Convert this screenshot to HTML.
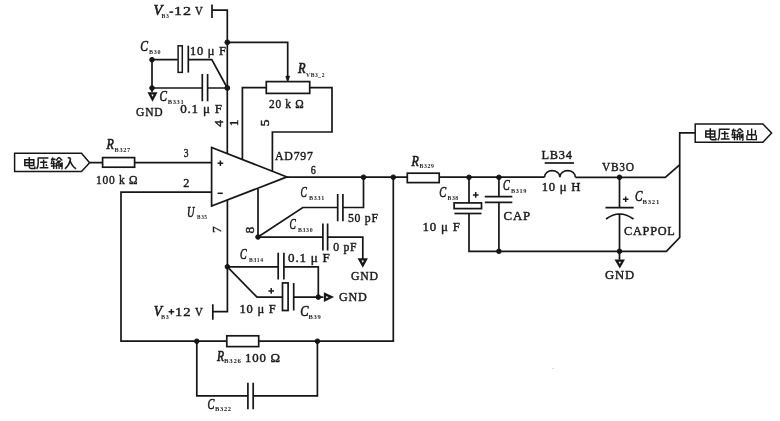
<!DOCTYPE html>
<html><head><meta charset="utf-8">
<style>
html,body{margin:0;padding:0;background:#fff;}
body{width:780px;height:421px;overflow:hidden;}
svg{display:block;filter:blur(0.3px);}
.t{font-family:"Liberation Serif",serif;fill:#1a1a1a;stroke:#1a1a1a;stroke-width:0.45px;letter-spacing:0.8px;}
.i{letter-spacing:0;stroke-width:0.6px;}
.s{letter-spacing:0.7px;}
.i{font-style:italic;}
.s{font-weight:bold;stroke-width:0px;}
</style></head><body>
<svg width="780" height="421" viewBox="0 0 780 421">
<rect x="0" y="0" width="780" height="421" fill="#fff"/>
<g fill="none" stroke="#161616" stroke-width="1.7" stroke-linejoin="miter">
<path d="M212,4.4V18M212,10.2H227.3V153.5"/>
<path d="M227.3,42.3H287.7V77"/>
<path d="M152,59.7H177.8M188.3,59.7H211.8L227.3,88"/>
<rect x="178.1" y="45.8" width="4.2" height="26.6" stroke-width="1.5"/>
<path d="M188.3,45.7V72.6"/>
<path d="M152,59.7V92"/>
<path d="M152,88H202.3M207.6,88H227.3M202.3,74V101.3M207.6,74V101.3"/>
<rect x="266.3" y="81.6" width="43.4" height="11.8"/>
<path d="M242.4,159V87.6H266.3M309.7,87.6H332V132H272.4V171"/>
<path d="M211.6,147.5V206.1L286.9,176.9Z"/>
<path d="M14.6,153.3H81.5L89.6,162.7L81.5,171.6H14.6Z" stroke-width="1.5"/>
<path d="M89.6,162.6H102.6M134.6,162.6H211.7"/>
<rect x="102.6" y="157.6" width="32" height="9.6"/>
<path d="M211.7,192.2H121V341.2H226.8M258.7,341.2H393.3V177.2"/>
<rect x="226.8" y="335.8" width="31.9" height="10.8"/>
<path d="M196.8,341.2V395.8H247.9M253.2,395.8H317.4V341.2M247.9,382.8V409.2M253.2,382.8V409.2"/>
<path d="M286.8,177.2H407.3M439.2,177.2H544.5M575.4,177.3H665.3L679.6,164.9"/>
<rect x="407.3" y="173.2" width="31.9" height="9.4"/>
<path d="M363.5,177.2V207.5H342.9M337.7,207.5H302.8L258,237M337.7,194V221.3M342.9,194V221.3"/>
<path d="M258,189V237.1H322.9M327.6,237.1H362.8V259M322.9,223.5V250.4M327.6,223.5V250.4"/>
<path d="M227.4,200V311.6H212.8M212.8,304.3V319.7"/>
<path d="M227.4,266.8H278.2M283.9,266.8H318.3V297M278.2,252.7V279.5M283.9,252.7V279.5"/>
<path d="M227.4,266.8L257,297.1H282.5M293.7,297.1H323.4M293.7,282.9V310.5"/>
<rect x="282.5" y="282.9" width="5.6" height="27.6"/>
<path d="M469,177.3V202.9M469,213.5V251.3H666.4L679.7,237.5V132.8H695.2"/>
<rect x="454.1" y="202.9" width="27.4" height="5.7"/>
<path d="M454.4,213.5H481.5"/>
<path d="M498.9,177.3V196.6M484.8,196.6H512.3M484.8,202.4H512.3M498.9,202.4V251.3"/>
<path d="M544.5,177.3C544.5,168.5 559.9,168.5 559.9,177.3C559.9,168.5 575.4,168.5 575.4,177.3"/>
<path d="M544.7,163H574"/>
<path d="M619.5,177.3V207.7M605.5,207.7H633.7M606,219Q619.5,209 633.5,219M619.5,214.7V259.7"/>
<path d="M695.2,123.9H762.9L771.6,133.1L762.9,142.2H695.2Z" stroke-width="1.5"/>
</g>
<g fill="#161616" stroke="#161616" stroke-width="1">
<circle cx="227.3" cy="42.3" r="2.4"/>
<circle cx="152" cy="59.7" r="2.3"/>
<circle cx="152" cy="88" r="2.3"/>
<circle cx="227.3" cy="88" r="2.4"/>
<circle cx="363.5" cy="177.2" r="2.3"/>
<circle cx="393.3" cy="177.2" r="2.3"/>
<circle cx="258" cy="237" r="2.3"/>
<circle cx="227.4" cy="266.8" r="2.3"/>
<circle cx="318.3" cy="297.1" r="2.3"/>
<circle cx="196.8" cy="341.2" r="2.3"/>
<circle cx="317.4" cy="341.2" r="2.3"/>
<circle cx="469" cy="177.3" r="2.3"/>
<circle cx="498.9" cy="177.3" r="2.3"/>
<circle cx="498.9" cy="251.3" r="2.3"/>
<circle cx="619.5" cy="177.3" r="2.3"/>
<circle cx="619.5" cy="251.3" r="2.3"/>
<path d="M285.9,76.3H289.5L287.7,81.6Z"/>
<circle cx="553" cy="368.5" r="0.6" fill="#bbb" stroke="none"/>
</g>
<g fill="#fff" stroke="#161616" stroke-width="2.3">
<path d="M149.4,93.4H155.6L152.5,99.2Z"/>
<path d="M359.5,259.4H366H366L362.8,265.4Z"/>
<path d="M325,294.1V300.2L331.4,297.1Z"/>
<path d="M616.5,260.6H623L619.8,266.3Z"/>
</g>

<g fill="none" stroke="#1a1a1a" stroke-width="1.5">
<path d="M169.4,12.1H173.2"/>
<path d="M168.6,311.7H174.2M171.4,308.9V314.5"/>
<path d="M217.6,163.2H223.2M220.4,160.4V166"/>
<path d="M217.6,193.3H222.8"/>
<path d="M268.4,290.9H274M271.2,288.1V293.7"/>
<path d="M472.9,194.9H478.5M475.7,192.1V197.7"/>
<path d="M622.9,199.3H628.5M625.7,196.5V202.1"/>
</g>
<g class="t" style="font-size:13.5px">
<text transform="translate(222.5,123) rotate(-90)" text-anchor="middle">4</text>
<text transform="translate(238,122.5) rotate(-90)" text-anchor="middle">1</text>
<text transform="translate(269,122.5) rotate(-90)" text-anchor="middle">5</text>
<text transform="translate(221,229.2) rotate(-90)" text-anchor="middle">7</text>
<text transform="translate(254,229.6) rotate(-90)" text-anchor="middle">8</text>
</g>
<defs>
<g id="dian" fill="none" stroke="#1a1a1a" stroke-width="1.5">
<path d="M1.5,2.8H10.5V8.6H1.5Z M1.5,5.7H10.5 M6,0V9.8Q6,11.4 7.8,11.4H11.6V9.6"/>
</g>
<g id="ya" fill="none" stroke="#1a1a1a" stroke-width="1.5">
<path d="M1,1H11.8 M1.6,1V6Q1.6,10 0,12 M3.5,5.2H10.6 M7,2.6V10.8 M3,10.8H11.8 M9.2,7.4L10.4,8.8"/>
</g>
<g id="shu" fill="none" stroke="#1a1a1a" stroke-width="1.4">
<path d="M0.4,2.2H5 M2.4,0.4L0.8,6.6H5 M3.2,3.4V12 M0.4,9H5.2 M8.4,0.2L5.4,3.6 M8.4,0.2L11.8,3.6 M6.6,4.2H10.4 M6,5.8H8.6V12 M6,5.8V12 M6,8.2H8.6 M10.2,6V10 M11.6,5.2V11.6Q11.6,12 10.8,12"/>
</g>
<g id="ru" fill="none" stroke="#1a1a1a" stroke-width="1.6">
<path d="M3.4,0.8Q5.6,0.6 6.2,1.6 M6.2,1.6Q5.4,8 0.6,11.8 M5.8,4Q8,9.6 11.8,11.8"/>
</g>
<g id="chu" fill="none" stroke="#1a1a1a" stroke-width="1.5">
<path d="M6,0V11.6 M2,1.4V6.4H10V1.4 M1,7V11.6H11V7"/>
</g>
</defs>
<use href="#dian" x="23.3" y="157"/>
<use href="#ya" x="36.6" y="157"/>
<use href="#shu" x="50.5" y="157"/>
<use href="#ru" x="64.3" y="157"/>
<use href="#dian" x="704.3" y="128.3"/>
<use href="#ya" x="717.8" y="128.3"/>
<use href="#shu" x="731.3" y="128.3"/>
<use href="#chu" transform="translate(746,128.6) scale(0.94,0.95)"/>

<text id="v12t" class="t" x="174.10" y="14.90" style="font-size:13.30px" textLength="17.93" lengthAdjust="spacingAndGlyphs">12</text>
<text id="vVt" class="t" x="194.90" y="14.90" style="font-size:13.30px" textLength="8.45" lengthAdjust="spacingAndGlyphs">V</text>
<text id="v12b" class="t" x="175.10" y="316.40" style="font-size:13.30px" textLength="16.42" lengthAdjust="spacingAndGlyphs">12</text>
<text id="vVb" class="t" x="194.90" y="316.40" style="font-size:13.30px" textLength="8.45" lengthAdjust="spacingAndGlyphs">V</text>
<text id="uF1" class="t" x="190.00" y="55.10" style="font-size:13.30px" textLength="36.63" lengthAdjust="spacingAndGlyphs">10 μ F</text>
<text id="gnd1" class="t" x="136.10" y="115.90" style="font-size:13.30px" textLength="27.13" lengthAdjust="spacingAndGlyphs">GND</text>
<text id="uF01a" class="t" x="180.20" y="113.35" style="font-size:13.30px" textLength="42.63" lengthAdjust="spacingAndGlyphs">0.1 μ F</text>
<text id="k20" class="t" x="269.10" y="107.90" style="font-size:13.30px" textLength="35.27" lengthAdjust="spacingAndGlyphs">20 k Ω</text>
<text id="ad" class="t" x="275.10" y="159.90" style="font-size:13.30px" textLength="38.44" lengthAdjust="spacingAndGlyphs">AD797</text>
<text id="p6" class="t" x="310.70" y="174.40" style="font-size:13.30px" textLength="5.68" lengthAdjust="spacingAndGlyphs">6</text>
<text id="p3" class="t" x="183.80" y="157.00" style="font-size:13.30px" textLength="5.32" lengthAdjust="spacingAndGlyphs">3</text>
<text id="p2" class="t" x="183.20" y="187.00" style="font-size:13.30px" textLength="6.76" lengthAdjust="spacingAndGlyphs">2</text>
<text id="k100" class="t" x="96.10" y="183.90" style="font-size:13.30px" textLength="42.10" lengthAdjust="spacingAndGlyphs">100 k Ω</text>
<text id="pf50" class="t" x="348.00" y="222.30" style="font-size:13.30px" textLength="30.66" lengthAdjust="spacingAndGlyphs">50 pF</text>
<text id="pf0" class="t" x="333.30" y="250.50" style="font-size:13.30px" textLength="23.93" lengthAdjust="spacingAndGlyphs">0 pF</text>
<text id="gnd2" class="t" x="351.10" y="279.90" style="font-size:13.30px" textLength="27.66" lengthAdjust="spacingAndGlyphs">GND</text>
<text id="uF01b" class="t" x="288.10" y="262.20" style="font-size:13.30px" textLength="42.57" lengthAdjust="spacingAndGlyphs">0.1 μ F</text>
<text id="gnd3" class="t" x="339.10" y="301.40" style="font-size:13.30px" textLength="28.49" lengthAdjust="spacingAndGlyphs">GND</text>
<text id="uF10b" class="t" x="239.50" y="313.30" style="font-size:13.30px" textLength="36.93" lengthAdjust="spacingAndGlyphs">10 μ F</text>
<text id="o100" class="t" x="245.10" y="362.40" style="font-size:13.30px" textLength="35.76" lengthAdjust="spacingAndGlyphs">100 Ω</text>
<text id="uF10c" class="t" x="422.60" y="231.00" style="font-size:13.30px" textLength="38.14" lengthAdjust="spacingAndGlyphs">10 μ F</text>
<text id="cap" class="t" x="503.60" y="219.90" style="font-size:13.30px" textLength="27.28" lengthAdjust="spacingAndGlyphs">CAP</text>
<text id="lb34" class="t" x="541.60" y="159.40" style="font-size:13.30px" textLength="31.08" lengthAdjust="spacingAndGlyphs">LB34</text>
<text id="uH" class="t" x="541.70" y="191.40" style="font-size:13.30px" textLength="39.61" lengthAdjust="spacingAndGlyphs">10 μ H</text>
<text id="vb30" class="t" x="602.10" y="170.90" style="font-size:13.30px" textLength="32.62" lengthAdjust="spacingAndGlyphs">VB3O</text>
<text id="cappol" class="t" x="624.10" y="234.90" style="font-size:13.30px" textLength="51.47" lengthAdjust="spacingAndGlyphs">CAPPOL</text>
<text id="gnd4" class="t" x="605.10" y="279.40" style="font-size:13.30px" textLength="29.74" lengthAdjust="spacingAndGlyphs">GND</text>
<text id="Vt" class="t i" x="153.45" y="14.90" style="font-size:14.20px" textLength="8.87" lengthAdjust="spacingAndGlyphs">V</text>
<text id="Vt_s" class="t s" x="161.60" y="18.40" style="font-size:6.80px" textLength="7.89" lengthAdjust="spacingAndGlyphs">B3</text>
<text id="Vb" class="t i" x="153.70" y="316.40" style="font-size:14.20px" textLength="8.24" lengthAdjust="spacingAndGlyphs">V</text>
<text id="Vb_s" class="t s" x="161.10" y="319.40" style="font-size:6.80px" textLength="8.29" lengthAdjust="spacingAndGlyphs">B3</text>
<text id="C30" class="t i" x="140.30" y="50.90" style="font-size:14.20px" textLength="7.75" lengthAdjust="spacingAndGlyphs">C</text>
<text id="C30_s" class="t s" x="149.10" y="53.90" style="font-size:6.80px" textLength="12.02" lengthAdjust="spacingAndGlyphs">B30</text>
<text id="C331a" class="t i" x="159.40" y="100.90" style="font-size:14.20px" textLength="7.43" lengthAdjust="spacingAndGlyphs">C</text>
<text id="C331a_s" class="t s" x="167.70" y="103.70" style="font-size:6.80px" textLength="16.72" lengthAdjust="spacingAndGlyphs">B331</text>
<text id="Rvb" class="t i" x="297.95" y="73.40" style="font-size:14.20px" textLength="7.64" lengthAdjust="spacingAndGlyphs">R</text>
<text id="Rvb_s" class="t s" x="306.10" y="77.10" style="font-size:6.80px" textLength="19.02" lengthAdjust="spacingAndGlyphs">VB3_2</text>
<text id="R327" class="t i" x="106.45" y="149.40" style="font-size:14.20px" textLength="7.43" lengthAdjust="spacingAndGlyphs">R</text>
<text id="R327_s" class="t s" x="114.60" y="152.40" style="font-size:6.80px" textLength="16.10" lengthAdjust="spacingAndGlyphs">B327</text>
<text id="U35" class="t i" x="186.95" y="216.90" style="font-size:14.20px" textLength="7.39" lengthAdjust="spacingAndGlyphs">U</text>
<text id="U35_s" class="t s" x="197.10" y="218.90" style="font-size:6.80px" textLength="10.39" lengthAdjust="spacingAndGlyphs">B35</text>
<text id="C331b" class="t i" x="300.45" y="197.40" style="font-size:14.20px" textLength="6.34" lengthAdjust="spacingAndGlyphs">C</text>
<text id="C331b_s" class="t s" x="309.10" y="200.40" style="font-size:6.80px" textLength="15.80" lengthAdjust="spacingAndGlyphs">B331</text>
<text id="C330" class="t i" x="289.45" y="229.40" style="font-size:14.20px" textLength="6.34" lengthAdjust="spacingAndGlyphs">C</text>
<text id="C330_s" class="t s" x="298.10" y="232.40" style="font-size:6.80px" textLength="15.08" lengthAdjust="spacingAndGlyphs">B330</text>
<text id="C314" class="t i" x="239.95" y="259.40" style="font-size:14.20px" textLength="6.67" lengthAdjust="spacingAndGlyphs">C</text>
<text id="C314_s" class="t s" x="249.10" y="261.90" style="font-size:6.80px" textLength="14.48" lengthAdjust="spacingAndGlyphs">B314</text>
<text id="C39" class="t i" x="300.20" y="315.90" style="font-size:14.20px" textLength="8.21" lengthAdjust="spacingAndGlyphs">C</text>
<text id="C39_s" class="t s" x="308.60" y="318.90" style="font-size:6.80px" textLength="12.88" lengthAdjust="spacingAndGlyphs">B39</text>
<text id="R326" class="t i" x="216.95" y="361.40" style="font-size:14.20px" textLength="7.11" lengthAdjust="spacingAndGlyphs">R</text>
<text id="R326_s" class="t s" x="224.10" y="363.40" style="font-size:6.80px" textLength="17.53" lengthAdjust="spacingAndGlyphs">B326</text>
<text id="C322" class="t i" x="207.45" y="408.90" style="font-size:14.20px" textLength="6.85" lengthAdjust="spacingAndGlyphs">C</text>
<text id="C322_s" class="t s" x="215.10" y="411.40" style="font-size:6.80px" textLength="16.67" lengthAdjust="spacingAndGlyphs">B322</text>
<text id="R329" class="t i" x="411.45" y="165.90" style="font-size:14.20px" textLength="7.39" lengthAdjust="spacingAndGlyphs">R</text>
<text id="R329_s" class="t s" x="419.60" y="168.40" style="font-size:6.80px" textLength="14.78" lengthAdjust="spacingAndGlyphs">B329</text>
<text id="C38" class="t i" x="439.20" y="196.90" style="font-size:14.20px" textLength="6.90" lengthAdjust="spacingAndGlyphs">C</text>
<text id="C38_s" class="t s" x="447.60" y="199.90" style="font-size:6.80px" textLength="11.20" lengthAdjust="spacingAndGlyphs">B38</text>
<text id="C319" class="t i" x="502.95" y="190.40" style="font-size:14.20px" textLength="6.75" lengthAdjust="spacingAndGlyphs">C</text>
<text id="C319_s" class="t s" x="511.10" y="192.90" style="font-size:6.80px" textLength="16.01" lengthAdjust="spacingAndGlyphs">B319</text>
<text id="C321" class="t i" x="634.95" y="201.40" style="font-size:14.20px" textLength="7.43" lengthAdjust="spacingAndGlyphs">C</text>
<text id="C321_s" class="t s" x="642.60" y="204.40" style="font-size:6.80px" textLength="17.35" lengthAdjust="spacingAndGlyphs">B321</text>
</svg>
</body></html>
